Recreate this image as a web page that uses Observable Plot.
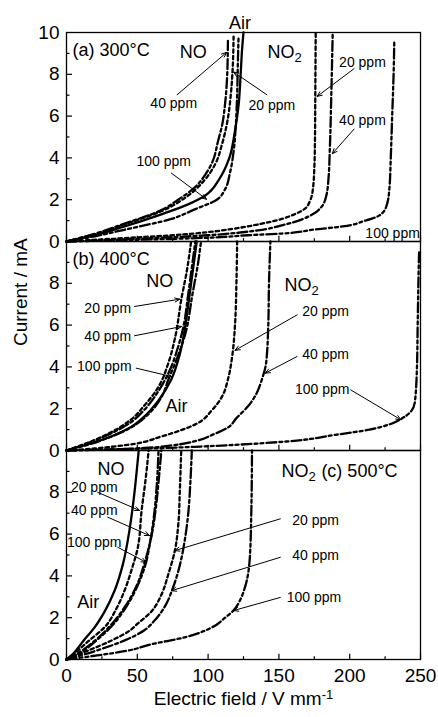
<!DOCTYPE html>
<html><head><meta charset="utf-8">
<script src="https://cdn.jsdelivr.net/npm/d3@7"></script>
<script src="https://cdn.jsdelivr.net/npm/@observablehq/plot@0.6"></script>
<style>
body{margin:0;background:#fff}
#chart{width:438px;height:717px}
</style>
</head><body><div id="chart"></div>
<script>
// ---------- data ----------
const panels = ["a", "b", "c"];
const yTickLabels = [0, 2, 4, 6, 8];
const yTopLabel = [{panel: "a", v: 10, t: "10"}];
const yMajorTicks = [2, 4, 6, 8];
const yMinorTicks = [1, 3, 5, 7, 9];
const xMajorTicks = [0, 50, 100, 150, 200, 250];
const xMinorTicks = [25, 75, 125, 175, 225];

// curves: [electric field (V/mm), current (mA)]
// (a) 300 °C
const A_AIR    = [[0,0],[20,0.3],[40,0.7],[67,1.3],[85,1.75],[98,2.2],[108,3],[115,4],[119,5.3],[121.5,6.5],[123,8],[124,9.2],[125,10]];
const A_NO20   = [[0,0],[20,0.35],[40,0.8],[67,1.45],[85,2.15],[97,2.9],[105,3.7],[110,4.7],[114,5.9],[116,7],[117.5,8.5],[118,9.8]];
const A_NO40   = [[0,0],[20,0.37],[40,0.83],[67,1.5],[80,2.05],[90,2.55],[98,3.2],[103,3.8],[107,4.8],[110,5.6],[112,6.6],[113.5,8],[114,9.6]];
const A_NO100  = [[0,0],[20,0.25],[40,0.55],[74,1.08],[91,1.55],[105,1.95],[112,2.5],[115.5,3.3],[118,4.3],[119.5,5.5],[120.5,7],[121,8.5],[121.5,9.8]];
const A_NO2_20 = [[0,0],[25,0.1],[50,0.2],[75,0.3],[100,0.45],[117,0.6],[131,0.76],[152,1.08],[161,1.3],[168,1.55],[172,1.95],[174,2.5],[175,3.5],[175.5,5],[175.7,7],[176,10]];
const A_NO2_40 = [[0,0],[50,0.13],[100,0.3],[135,0.53],[152,0.77],[167,1.08],[175,1.35],[180,1.65],[183.5,2.2],[185,3],[186,4.5],[187,7],[188,10]];
const A_NO2_100= [[0,0],[50,0.08],[100,0.18],[128,0.3],[152,0.38],[176,0.58],[195,0.72],[211,1.0],[221,1.25],[226,1.7],[228,2.5],[229,4],[230,6],[231,8],[231.5,9.6]];
// (b) 400 °C
const B_AIR    = [[0,0],[15,0.3],[31.5,0.67],[45,1.1],[55,1.63],[65,2.4],[74,3.4],[80,4.6],[84,6],[87,7.5],[90,9],[92,10]];
const B_NO20   = [[0,0],[15,0.37],[30,0.82],[45,1.45],[55,2.15],[65,3.05],[72,4.2],[77,5.5],[81,7.2],[85,8.6],[88,10]];
const B_NO40   = [[0,0],[15,0.35],[30,0.77],[45,1.33],[55,1.95],[65,2.85],[73,3.85],[79,5],[82.5,5.9],[86,7.5],[89,9],[91,10]];
const B_NO100  = [[0,0],[15,0.27],[30,0.62],[45,1.08],[58,1.75],[67,2.55],[72,3.4],[78,4.4],[84,5.6],[89,7.5],[93,9],[95,10]];
const B_NO2_20 = [[0,0],[20,0.1],[43,0.27],[67,0.67],[80,0.95],[91,1.25],[103,1.95],[110,2.6],[114,3.4],[117,4.5],[119,6],[120,8],[120.5,10]];
const B_NO2_40 = [[0,0],[30,0.05],[55,0.12],[75,0.25],[91,0.45],[103,0.75],[114,1.1],[120,1.55],[128,2.1],[134,2.7],[138,3.4],[141,4.2],[142.5,6],[143,8],[144,10]];
const B_NO2_100= [[0,0],[30,0.05],[60,0.1],[95,0.19],[119,0.27],[155,0.43],[190,0.75],[214,1.0],[228,1.25],[236,1.5],[243,1.85],[246,2.3],[247.5,4],[248,6],[248.5,8],[249,9.5]];
// (c) 500 °C
const C_AIR    = [[0,0],[5,0.3],[12,0.9],[20,1.55],[27,2.3],[34,3.3],[40,4.6],[44.5,6.2],[47.5,7.7],[50,9.3],[51,10]];
const C_NO20   = [[0,0],[5,0.25],[15,0.85],[27,1.55],[35,2.4],[41,3.3],[46,4.3],[50.5,5.4],[53,7.1],[56,8.7],[58,10]];
const C_NO40   = [[0,0],[8,0.3],[20,0.9],[32,1.7],[42,2.6],[50,3.6],[55,4.6],[60,5.9],[63,7.2],[65,8.5],[67,10]];
const C_NO100  = [[0,0],[8,0.25],[20,0.85],[32,1.6],[42,2.5],[50,3.5],[56,4.6],[59,5.6],[62,7],[64,8.6],[65,10]];
const C_NO2_20 = [[0,0],[15,0.42],[31.5,0.9],[45,1.4],[50,1.7],[60,2.3],[67,3.1],[72,4.1],[76.5,5.2],[79,6.5],[80,8],[81,10]];
const C_NO2_40 = [[0,0],[20,0.4],[43,0.97],[55,1.4],[62,1.85],[70,2.6],[75,3.4],[80,4.5],[83.5,5.7],[86,7],[87.5,8.5],[88.5,10]];
const C_NO2_100= [[0,0],[20,0.18],[43,0.42],[60,0.73],[83.5,1.06],[102.5,1.53],[112,2],[118,2.35],[123,2.9],[126,3.45],[129.5,4.9],[130.5,7],[131,10]];

const curves = [
  ["a","air",A_AIR],["a","20",A_NO20],["a","40",A_NO40],["a","100",A_NO100],
  ["a","20",A_NO2_20],["a","40",A_NO2_40],["a","100",A_NO2_100],
  ["b","air",B_AIR],["b","20",B_NO20],["b","40",B_NO40],["b","100",B_NO100],
  ["b","20",B_NO2_20],["b","40",B_NO2_40],["b","100",B_NO2_100],
  ["c","air",C_AIR],["c","20",C_NO20],["c","40",C_NO40],["c","100",C_NO100],
  ["c","20",C_NO2_20],["c","40",C_NO2_40],["c","100",C_NO2_100]
];

// annotations (data coordinates)
const panelTitles = [
  {panel:"a", x:4.3, y:9.13, t:"(a) 300°C"},
  {panel:"b", x:4.3, y:9.13, t:"(b) 400°C"},
  {panel:"c", x:180, y:9.03, t:"(c) 500°C"}
];
const gasLabels = [
  {panel:"a", x:89.5, y:9.05, t:"NO"},
  {panel:"a", x:154, y:9.05, t:"NO2"},
  {panel:"b", x:65.8, y:8.09, t:"NO"},
  {panel:"b", x:166, y:7.93, t:"NO2"},
  {panel:"c", x:31.5, y:9.11, t:"NO"},
  {panel:"c", x:164, y:9.03, t:"NO2"}
];
const airLabels = [
  {panel:"a", x:122.6, y:10.45, t:"Air"},
  {panel:"b", x:77.6, y:2.1, t:"Air"},
  {panel:"c", x:15.4, y:2.73, t:"Air"}
];
const ppmLabels = [
  {panel:"a", x:75.7, y:6.62, t:"40 ppm"},
  {panel:"a", x:145, y:6.52, t:"20 ppm"},
  {panel:"a", x:68.6, y:3.81, t:"100 ppm"},
  {panel:"a", x:209, y:8.58, t:"20 ppm"},
  {panel:"a", x:209, y:5.81, t:"40 ppm"},
  {panel:"a", x:230.3, y:0.36, t:"100 ppm"},
  {panel:"b", x:29.1, y:6.81, t:"20 ppm"},
  {panel:"b", x:29.1, y:5.45, t:"40 ppm"},
  {panel:"b", x:26.7, y:4.02, t:"100 ppm"},
  {panel:"b", x:183, y:6.65, t:"20 ppm"},
  {panel:"b", x:183, y:4.58, t:"40 ppm"},
  {panel:"b", x:180.6, y:2.9, t:"100 ppm"},
  {panel:"c", x:19.6, y:8.25, t:"20 ppm"},
  {panel:"c", x:19.6, y:7.13, t:"40 ppm"},
  {panel:"c", x:19.6, y:5.61, t:"100 ppm"},
  {panel:"c", x:175.9, y:6.65, t:"20 ppm"},
  {panel:"c", x:175.9, y:4.97, t:"40 ppm"},
  {panel:"c", x:174.7, y:2.97, t:"100 ppm"}
];
const arrows = [
  {panel:"a", x1:78.1, y1:7.02, x2:113.1, y2:9.05},
  {panel:"a", x1:141.5, y1:7.02, x2:118, y2:8.11},
  {panel:"a", x1:74.1, y1:3.27, x2:98.9, y2:2.02},
  {panel:"a", x1:203.1, y1:8.27, x2:177, y2:6.94},
  {panel:"a", x1:203.1, y1:5.38, x2:187.7, y2:4.2},
  {panel:"b", x1:48, y1:6.89, x2:80, y2:7.24},
  {panel:"b", x1:48, y1:5.49, x2:81.2, y2:5.93},
  {panel:"b", x1:49.2, y1:3.94, x2:74.1, y2:3.54},
  {panel:"b", x1:162.9, y1:6.49, x2:119, y2:4.79},
  {panel:"b", x1:162.9, y1:4.5, x2:140.3, y2:3.7},
  {panel:"b", x1:200.7, y1:2.9, x2:236.2, y2:1.47},
  {panel:"c", x1:22, y1:8.0, x2:51.6, y2:7.13},
  {panel:"c", x1:29.1, y1:6.81, x2:58.7, y2:5.93},
  {panel:"c", x1:36.2, y1:5.37, x2:56.3, y2:4.65},
  {panel:"c", x1:151, y1:6.73, x2:76.4, y2:5.21},
  {panel:"c", x1:151, y1:4.89, x2:74.1, y2:3.29},
  {panel:"c", x1:151, y1:2.97, x2:117.9, y2:2.34}
];
const yAxisLabel = [{panel:"b", t:"Current / mA"}];
const xAxisLabel = [{panel:"c", t:"Electric field / V mm-1"}];

// ---------- build ----------
const rows = [];
curves.forEach(([panel, style, pts], i) => pts.forEach(([x, y]) => rows.push({panel, style, id: i, x, y})));
const dashes = {air: null, "20": "3.5,3", "40": "10,3,3,3", "100": "10,3,3,3,3,3"};

const W = 438, H = 717, MT = 31, MB = 57, ML = 66, MR = 18;
const plotW = W - ML - MR;
const facetH = (H - MT - MB) / panels.length;

const lineMarks = Object.keys(dashes).map(s =>
  Plot.line(rows.filter(r => r.style === s), {
    x: "x", y: "y", z: "id", fy: "panel", curve: "monotone-y",
    stroke: "black", strokeWidth: 2.3,
    strokeDasharray: dashes[s] || undefined
  })
);

const FONT = "'Liberation Sans', Arial, Helvetica, sans-serif";
const chart = Plot.plot({
  width: W, height: H,
  marginTop: MT, marginBottom: MB, marginLeft: ML, marginRight: MR,
  style: {fontFamily: FONT, fontSize: "19px", color: "black", background: "white", overflow: "visible"},
  x: {domain: [0, 250]},
  y: {domain: [0, 10]},
  fy: {domain: panels, padding: 0, axis: null, label: null},
  marks: [
    Plot.axisY({ticks: yTickLabels, tickSize: 0, tickPadding: 7, fontSize: 19, label: null}),
    Plot.text(yTopLabel, {fy: "panel", y: "v", text: "t", frameAnchor: "left", textAnchor: "end", dx: -7, fontSize: 19}),
    Plot.axisX({ticks: xMajorTicks, tickSize: 0, tickPadding: 9, fontSize: 19, label: null}),
    Plot.tickY(yMajorTicks, {y: d => d, insetRight: plotW - 6, stroke: "black", strokeWidth: 1.2}),
    Plot.tickY(yMinorTicks, {y: d => d, insetRight: plotW - 3.5, stroke: "black", strokeWidth: 1.2}),
    Plot.tickX(xMajorTicks, {x: d => d, insetTop: facetH - 6, stroke: "black", strokeWidth: 1.2}),
    Plot.tickX(xMinorTicks, {x: d => d, insetTop: facetH - 3.5, stroke: "black", strokeWidth: 1.2}),
    ...lineMarks,
    Plot.frame({stroke: "black", strokeWidth: 1.3}),
    Plot.arrow(arrows, {x1: "x1", y1: "y1", x2: "x2", y2: "y2", fy: "panel", stroke: "black", strokeWidth: 1, headLength: 8, headAngle: 45}),
    Plot.text(ppmLabels, {x: "x", y: "y", text: "t", fy: "panel", fontSize: 14}),
    Plot.text(panelTitles, {x: "x", y: "y", text: "t", fy: "panel", fontSize: 18, textAnchor: "start"}),
    Plot.text(gasLabels, {x: "x", y: "y", text: "t", fy: "panel", fontSize: 18}),
    Plot.text(airLabels, {x: "x", y: "y", text: "t", fy: "panel", fontSize: 18}),
    Plot.text(yAxisLabel, {fy: "panel", text: "t", frameAnchor: "left", rotate: -90, dx: -46, fontSize: 19}),
    Plot.text(xAxisLabel, {fy: "panel", text: "t", frameAnchor: "bottom", dy: 45, fontSize: 19})
  ]
});

const NS = "http://www.w3.org/2000/svg";
chart.querySelectorAll("text").forEach(t => {
  if (t.children.length) return;
  if (t.textContent === "NO2") {
    t.textContent = "NO";
    const s = document.createElementNS(NS, "tspan");
    s.setAttribute("dy", "0.32em"); s.setAttribute("font-size", "13"); s.textContent = "2";
    t.appendChild(s);
  } else if (t.textContent === "Electric field / V mm-1") {
    t.textContent = "Electric field / V mm";
    const s = document.createElementNS(NS, "tspan");
    s.setAttribute("dy", "-0.45em"); s.setAttribute("font-size", "13"); s.textContent = "-1";
    t.appendChild(s);
  }
});
document.getElementById("chart").appendChild(chart);
</script>
</body></html>
